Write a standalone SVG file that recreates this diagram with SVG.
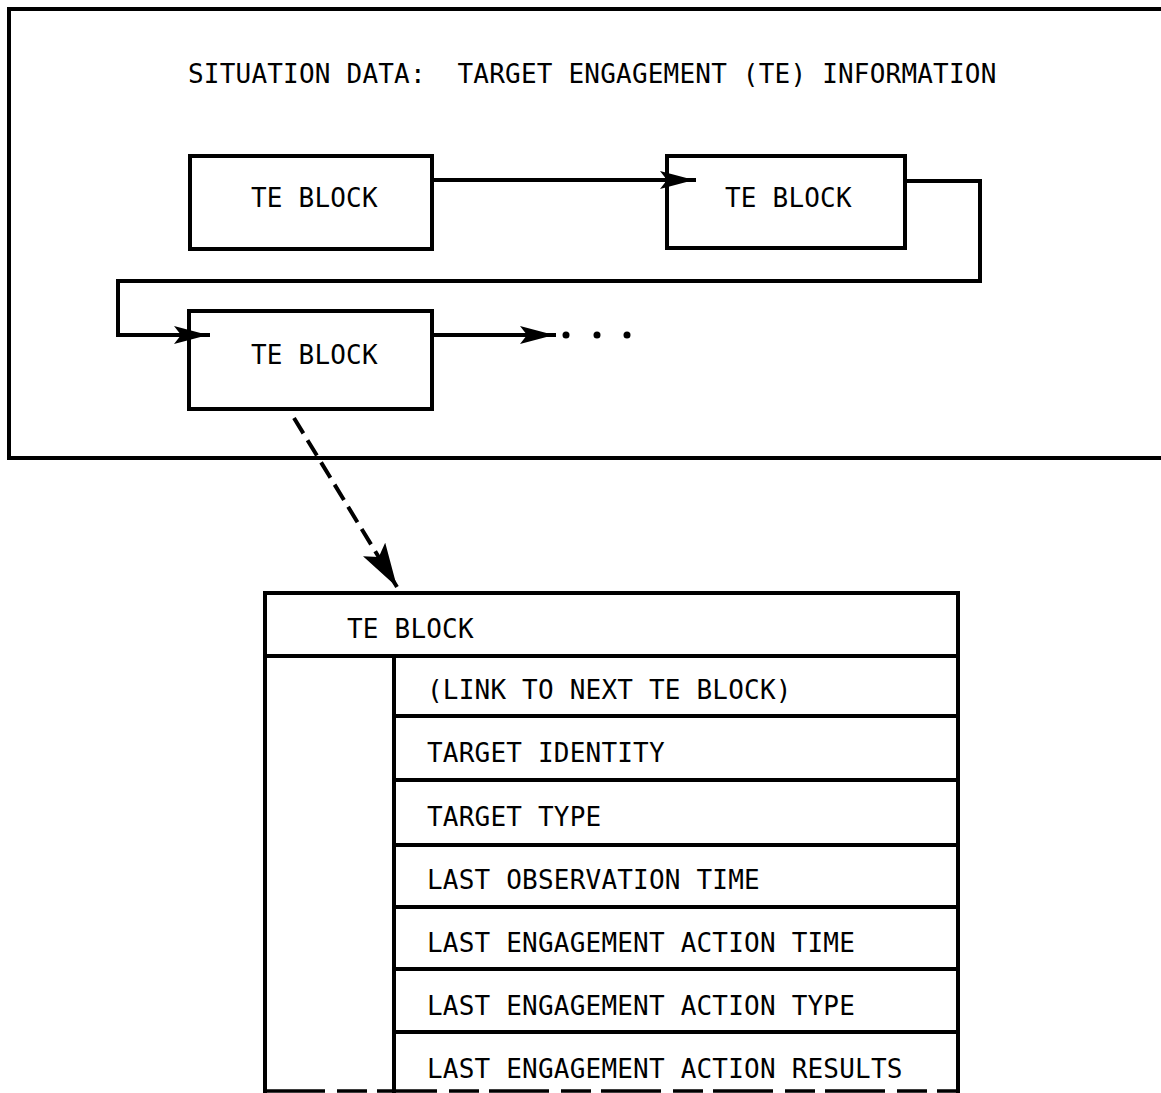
<svg xmlns="http://www.w3.org/2000/svg" width="1161" height="1093" viewBox="0 0 1161 1093">
  <style>
    .ln { fill: none; stroke: #000; stroke-width: 4; stroke-linejoin: miter; stroke-linecap: square; }
    .thin { fill: none; stroke: #000; stroke-width: 3.5; }
    .tx { font-family: "DejaVu Sans Mono", "Liberation Mono", monospace; font-size: 26px; fill: #000; letter-spacing: 0.2px; white-space: pre; }
    .dash { fill: none; stroke: #000; stroke-width: 4; stroke-dasharray: 18 8; }
  </style>
  <defs>
    <marker id="arr" viewBox="0 0 34 18" refX="34" refY="9" markerWidth="34" markerHeight="18" markerUnits="userSpaceOnUse" orient="auto">
      <path d="M0,0 L34,9 L0,18 L7,9 Z" fill="#000"/>
    </marker>
    <marker id="arrBig" viewBox="0 0 44 26" refX="44" refY="13" markerWidth="44" markerHeight="26" markerUnits="userSpaceOnUse" orient="auto">
      <path d="M0,0 L44,13 L0,26 L9,13 Z" fill="#000"/>
    </marker>
  </defs>

  <rect width="1161" height="1093" fill="#fff"/>

  <!-- enclosing frame for the situation data, open on the right -->
  <g id="frame">
    <path class="ln" d="M1161,9 H9 V458 H1161"/>
    <text class="tx" x="188" y="83" xml:space="preserve">SITUATION DATA:  TARGET ENGAGEMENT (TE) INFORMATION</text>
  </g>

  <g id="te1">
    <rect class="ln" x="190" y="156" width="242" height="93"/>
    <text class="tx" x="251" y="207">TE BLOCK</text>
  </g>
  <g id="te2">
    <rect class="ln" x="667" y="156" width="238" height="92"/>
    <text class="tx" x="725" y="207">TE BLOCK</text>
  </g>
  <g id="te3">
    <rect class="ln" x="189" y="311" width="243" height="98"/>
    <text class="tx" x="251" y="364">TE BLOCK</text>
  </g>

  <!-- expanded record layout -->
  <g id="te-record">
    <path class="ln" d="M265,1091 V593 H958 V1091"/>
    <line class="ln" x1="265" y1="656" x2="958" y2="656"/>
    <line class="ln" x1="394" y1="656" x2="394" y2="1091"/>
    <line class="ln" x1="394" y1="716" x2="958" y2="716"/>
    <line class="ln" x1="394" y1="780" x2="958" y2="780"/>
    <line class="ln" x1="394" y1="845" x2="958" y2="845"/>
    <line class="ln" x1="394" y1="907" x2="958" y2="907"/>
    <line class="ln" x1="394" y1="969" x2="958" y2="969"/>
    <line class="ln" x1="394" y1="1032" x2="958" y2="1032"/>
    <line class="thin" x1="265" y1="1091" x2="958" y2="1091" stroke-dasharray="60 12 30 10"/>
    <text class="tx" x="347" y="638">TE BLOCK</text>
    <text class="tx" x="427" y="699">(LINK TO NEXT TE BLOCK)</text>
    <text class="tx" x="427" y="762">TARGET IDENTITY</text>
    <text class="tx" x="427" y="826">TARGET TYPE</text>
    <text class="tx" x="427" y="889">LAST OBSERVATION TIME</text>
    <text class="tx" x="427" y="952">LAST ENGAGEMENT ACTION TIME</text>
    <text class="tx" x="427" y="1015">LAST ENGAGEMENT ACTION TYPE</text>
    <text class="tx" x="427" y="1078">LAST ENGAGEMENT ACTION RESULTS</text>
  </g>

  <g id="connectors">
    <line class="ln" x1="432" y1="180" x2="694" y2="180" marker-end="url(#arr)"/>
    <path class="ln" d="M905,181 H980 V281 H118 V335 H208" marker-end="url(#arr)"/>
    <line class="ln" x1="432" y1="335" x2="554" y2="335" marker-end="url(#arr)"/>
    <circle cx="566" cy="335" r="3.5" fill="#000"/>
    <circle cx="597" cy="335" r="3.5" fill="#000"/>
    <circle cx="627" cy="335" r="3.5" fill="#000"/>
    <line class="dash" x1="294" y1="418" x2="397" y2="587" marker-end="url(#arrBig)"/>
  </g>
</svg>
